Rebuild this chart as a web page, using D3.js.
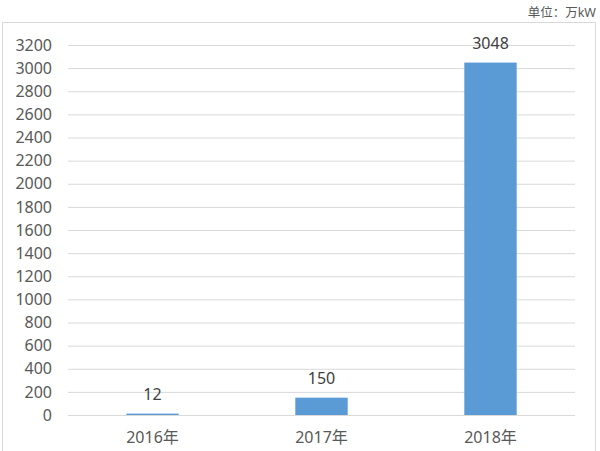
<!DOCTYPE html>
<html><head><meta charset="utf-8">
<script src="https://cdn.jsdelivr.net/npm/d3@7"></script>
<style>body{margin:0;background:#fff}</style>
</head><body>
<svg id="c" width="600" height="451"></svg>
<script>
const categories = ["2016年", "2017年", "2018年"];
const values = [12, 150, 3048];
const yTicks = [0,200,400,600,800,1000,1200,1400,1600,1800,2000,2200,2400,2600,2800,3000,3200];
const unitLabel = "单位：万kW";

const svg = d3.select("#c");
const font = "'Noto Sans','Noto Sans CJK SC',sans-serif";
const m = {left: 68, right: 25, top: 45, bottom: 36};
const W = 600, H = 451;

svg.append("rect").attr("x", 2.5).attr("y", 22.5).attr("width", 593).attr("height", 440)
  .attr("fill", "none").attr("stroke", "#d9d9d9");

svg.append("text").attr("x", 596).attr("y", 17).attr("text-anchor", "end")
  .attr("font-family", font).attr("font-size", 12.5).attr("fill", "#595959").text(unitLabel);

const x = d3.scaleBand().domain(categories).range([m.left, W - m.right]).paddingInner(0.69).paddingOuter(0.345);
const y = d3.scaleLinear().domain([0, 3200]).range([415, 45]);

const g = svg.append("g");
const yAxis = g.append("g").attr("transform", `translate(${m.left},0)`)
  .call(d3.axisLeft(y).tickValues(yTicks).tickFormat(d3.format("d")).tickSize(-(W - m.right - m.left)).tickPadding(16));
yAxis.select(".domain").remove();
yAxis.selectAll(".tick line").attr("stroke", "#d9d9d9");
yAxis.selectAll(".tick text").attr("font-family", font).attr("font-size", 16).attr("fill", "#595959");

g.selectAll("rect.bar").data(values).join("rect").attr("class", "bar")
  .attr("x", (d, i) => x(categories[i])).attr("width", x.bandwidth())
  .attr("y", d => y(d)).attr("height", d => y(0) - y(d)).attr("fill", "#5b9bd5");

g.selectAll("text.lbl").data(values).join("text").attr("class", "lbl")
  .attr("x", (d, i) => x(categories[i]) + x.bandwidth() / 2).attr("y", d => y(d) - 14)
  .attr("text-anchor", "middle").attr("font-family", font).attr("font-size", 16).attr("fill", "#404040")
  .text(d => d);

const xAxis = g.append("g").attr("transform", `translate(0,${y(0)})`)
  .call(d3.axisBottom(x).tickSize(0).tickPadding(17));
xAxis.select(".domain").remove();
xAxis.selectAll(".tick text").attr("font-family", font).attr("font-size", 16).attr("fill", "#595959");
</script>
</body></html>
